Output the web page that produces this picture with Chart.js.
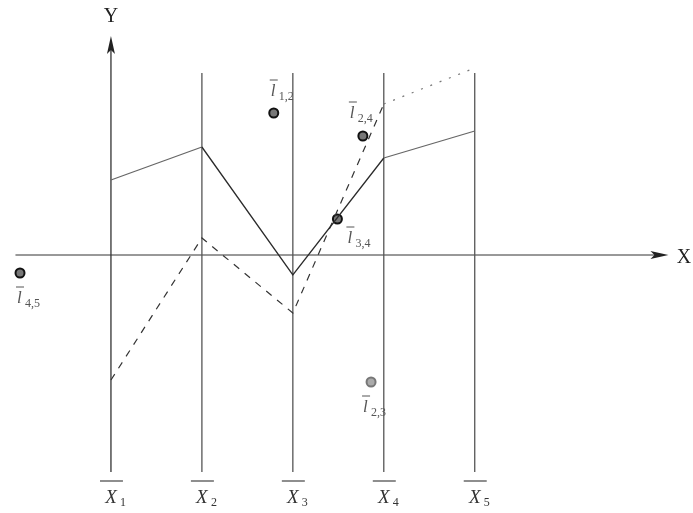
<!DOCTYPE html>
<html>
<head>
<meta charset="utf-8">
<script src="https://cdn.jsdelivr.net/npm/chart.js@4"></script>
<style>
  body { margin: 0; background: #fff; }
  canvas { display: block; }
</style>
</head>
<body>
<canvas id="pc" width="693" height="513"></canvas>
<script>
// parallel axes X1..X5 placed at positions 1..5
const axisLabels = ["1", "2", "3", "4", "5"];
const axisPos = [1, 2, 3, 4, 5];

// two points of R^5 drawn as polylines
const solidValues = [1.5, 2.16, -0.4, 1.94, 2.48];
const dashedValues = [-2.5, 0.34, -1.16, 3.02, 3.74];

// indexed points of the line
const pointNames = ["1,2", "2,4", "3,4", "4,5", "2,3"];
const pointX = [2.79, 3.77, 3.49, 0.0, 3.86];
const pointY = [2.84, 2.38, 0.72, -0.36, -2.54];

const SERIF = "'Liberation Serif', 'DejaVu Serif', serif";

// label offsets in pixels from each point
const labelOffsets = [[-3, -17], [-13, -18], [10, 24], [-3, 30], [-8, 30]];

const axesPlugin = {
  id: "parallelAxes",
  beforeDatasetsDraw(chart) {
    const ctx = chart.ctx;
    const xs = chart.scales.x, ys = chart.scales.y;
    const y0 = ys.getPixelForValue(0);
    ctx.save();

    // horizontal X axis with arrow
    ctx.strokeStyle = "#333";
    ctx.lineWidth = 1;
    ctx.beginPath();
    ctx.moveTo(xs.getPixelForValue(-0.05), y0);
    ctx.lineTo(xs.getPixelForValue(7.0), y0);
    ctx.stroke();
    const ax = xs.getPixelForValue(7.13);
    ctx.fillStyle = "#222";
    ctx.beginPath();
    ctx.moveTo(ax, y0);
    ctx.lineTo(ax - 18, y0 - 4);
    ctx.lineTo(ax - 14, y0);
    ctx.lineTo(ax - 18, y0 + 4);
    ctx.closePath();
    ctx.fill();

    // vertical parallel axes
    axisPos.forEach((p, i) => {
      const px = xs.getPixelForValue(p);
      const top = i === 0 ? ys.getPixelForValue(4.25) : ys.getPixelForValue(3.64);
      const bot = ys.getPixelForValue(-4.34);
      ctx.strokeStyle = i === 0 ? "#333" : "#555";
      ctx.lineWidth = 1.3;
      ctx.beginPath();
      ctx.moveTo(px, top);
      ctx.lineTo(px, bot);
      ctx.stroke();

      // overlined axis name below
      ctx.strokeStyle = "#444";
      ctx.lineWidth = 1.2;
      ctx.beginPath();
      ctx.moveTo(px - 11, bot + 9);
      ctx.lineTo(px + 12, bot + 9);
      ctx.stroke();
      ctx.fillStyle = "#333";
      ctx.font = "italic 19px " + SERIF;
      ctx.textAlign = "center";
      ctx.textBaseline = "alphabetic";
      ctx.fillText("X", px, bot + 31);
      ctx.font = "12px " + SERIF;
      ctx.textAlign = "left";
      ctx.fillText(axisLabels[i], px + 9, bot + 34);
    });

    // arrow on the first axis (Y)
    const x1 = xs.getPixelForValue(axisPos[0]);
    const ty = ys.getPixelForValue(4.3);
    ctx.fillStyle = "#222";
    ctx.beginPath();
    ctx.moveTo(x1, ty - 4);
    ctx.lineTo(x1 - 4, ty + 14);
    ctx.lineTo(x1, ty + 10);
    ctx.lineTo(x1 + 4, ty + 14);
    ctx.closePath();
    ctx.fill();

    ctx.font = "20px " + SERIF;
    ctx.textAlign = "center";
    ctx.fillText("Y", x1, 22);
    ctx.fillText("X", xs.getPixelForValue(7.3), y0 + 8);
    ctx.restore();
  },
  afterDatasetsDraw(chart) {
    const ctx = chart.ctx;
    const meta = chart.getDatasetMeta(2);
    ctx.save();
    ctx.fillStyle = "#555";
    ctx.strokeStyle = "#555";
    ctx.textBaseline = "alphabetic";
    meta.data.forEach((el, i) => {
      const lx = el.x + labelOffsets[i][0];
      const ly = el.y + labelOffsets[i][1];
      ctx.font = "italic 17px " + SERIF;
      ctx.textAlign = "left";
      ctx.fillText("l", lx, ly);
      ctx.lineWidth = 1;
      ctx.beginPath();
      ctx.moveTo(lx - 1, ly - 16);
      ctx.lineTo(lx + 7, ly - 16);
      ctx.stroke();
      ctx.font = "12px " + SERIF;
      ctx.fillText(pointNames[i], lx + 8, ly + 4);
    });
    ctx.restore();
  }
};

new Chart(document.getElementById("pc"), {
  type: "scatter",
  data: {
    datasets: [
      {
        data: axisPos.map((x, i) => ({ x, y: solidValues[i] })),
        showLine: true,
        borderColor: "#2b2b2b",
        borderWidth: 1.3,
        pointRadius: 0,
        segment: {
          borderColor: c => (c.p0DataIndex === 0 || c.p0DataIndex === 3) ? "#666" : "#2b2b2b"
        }
      },
      {
        data: axisPos.map((x, i) => ({ x, y: dashedValues[i] })),
        showLine: true,
        borderColor: "#333",
        borderWidth: 1.2,
        pointRadius: 0,
        segment: {
          borderDash: c => c.p0DataIndex === 3 ? [2, 8] : [7, 7],
          borderColor: c => c.p0DataIndex === 3 ? "#777" : "#333"
        }
      },
      {
        data: pointX.map((x, i) => ({ x, y: pointY[i] })),
        showLine: false,
        pointRadius: 4.5,
        backgroundColor: pointNames.map((n, i) => i === 4 ? "#aaa" : "#777"),
        borderColor: pointNames.map((n, i) => i === 4 ? "#777" : "#111"),
        borderWidth: 2
      }
    ]
  },
  options: {
    responsive: false,
    animation: false,
    layout: { padding: 0, autoPadding: false },
    scales: {
      x: { type: "linear", min: -0.22, max: 7.4, display: false },
      y: { type: "linear", min: -5.16, max: 5.1, display: false }
    },
    plugins: { legend: { display: false }, tooltip: { enabled: false } }
  },
  plugins: [axesPlugin]
});
</script>
</body>
</html>
